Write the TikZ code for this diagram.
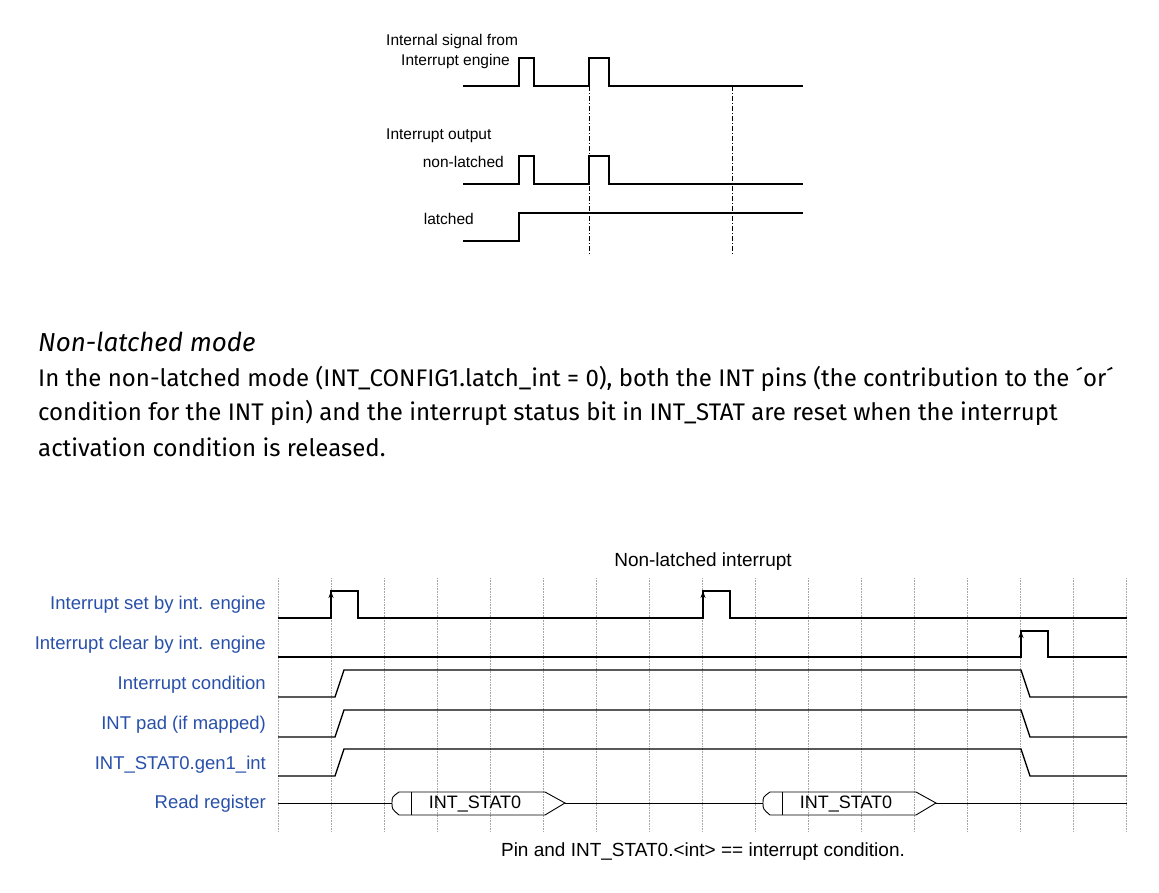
\documentclass[tikz,border=0pt]{standalone}
\usepackage{fontspec}
\setmainfont{Liberation Sans}
\newfontfamily\parafont{Fira Sans}
\usetikzlibrary{arrows.meta}
\definecolor{lblblue}{RGB}{40,80,170}

\begin{document}
\begin{tikzpicture}
	[x=1pt,y=-1pt,
	sig/.style={line width=1.3pt},
	gridline/.style={densely dotted, gray!70, line width=0.6pt},
	dashdot/.style={dash pattern=on 5pt off 2pt on 1pt off 2pt, line width=1pt},
	toplbl/.style={inner sep=0pt, font=\fontsize{15.5}{17}\selectfont},
	sidelbl/.style={anchor=east, inner sep=0pt, text=lblblue, font=\fontsize{18.5}{20}\selectfont},
	paratext/.style={anchor=west, inner sep=0pt, font=\parafont\fontsize{24}{28}\selectfont}]
	\useasboundingbox (0,0) rectangle (1159,893);
	
	% upper diagram
	\node[toplbl, anchor=west] (sigfrom) at (386,41) {Internal signal from};
	\node[toplbl, anchor=east] (sigeng) at (510,61) {Interrupt engine};
	\node[toplbl, anchor=west] (outlbl) at (386,136) {Interrupt output};
	\node[toplbl, anchor=east] (nonlat) at (504,162) {non-latched};
	\node[toplbl, anchor=east] (lat) at (474,219) {latched};
	
	\draw[sig] (463,86) -- (519,86) -- (519,58) -- (534,58) -- (534,86) -- (589,86) -- (589,58) -- (609,58) -- (609,86) -- (803,86);
	\draw[sig] (463,184) -- (519,184) -- (519,156) -- (534,156) -- (534,184) -- (589,184) -- (589,156) -- (609,156) -- (609,184) -- (803,184);
	\draw[sig] (463,241) -- (519,241) -- (519,213) -- (803,213);
	\draw[dashdot] (589,86) -- (589,255);
	\draw[dashdot] (732,86) -- (732,255);
	
	% text
	\node[paratext, font=\parafont\itshape\fontsize{26}{30}\selectfont] (mode) at (38,342) {Non-latched mode};
	\node[paratext] (line1) at (38,379) {In the non-latched mode (INT\_CONFIG1.latch\_int = 0), both the INT pins (the contribution to the ´or´};
	\node[paratext] (line2) at (38,413) {condition for the INT pin) and the interrupt status bit in INT\_STAT are reset when the interrupt};
	\node[paratext] (line3) at (38,447) {activation condition is released.};
	
	% lower diagram
	\foreach \gx in {0,...,16}
		\draw[gridline] (278+53*\gx,578) -- (278+53*\gx,832);
	
	\node[inner sep=0pt, font=\fontsize{19}{21}\selectfont] (title) at (703,562) {Non-latched interrupt};
	\node[inner sep=0pt, font=\fontsize{19}{21}\selectfont] (caption) at (703,852) {Pin and INT\_STAT0.<int> == interrupt condition.};
	
	\node[sidelbl] (setlbl) at (266,605) {Interrupt set by int. engine};
	\node[sidelbl] (clrlbl) at (266,645) {Interrupt clear by int. engine};
	\node[sidelbl] (condlbl) at (266,685) {Interrupt condition};
	\node[sidelbl] (padlbl) at (266,725) {INT pad (if mapped)};
	\node[sidelbl] (statlbl) at (266,765) {INT\_STAT0.gen1\_int};
	\node[sidelbl] (readlbl) at (266,804) {Read register};
	
	\draw[sig] (278,618) -- (331,618) -- (331,591) -- (358,591) -- (358,618) -- (703,618) -- (703,591) -- (730,591) -- (730,618) -- (1127,618);
	\draw[-{Stealth[length=7pt,width=5pt]}, sig] (331,612) -- (331,591);
	\draw[-{Stealth[length=7pt,width=5pt]}, sig] (703,612) -- (703,591);
	\draw[sig] (278,657) -- (1021,657) -- (1021,631) -- (1048,631) -- (1048,657) -- (1127,657);
	\draw[-{Stealth[length=7pt,width=5pt]}, sig] (1021,651) -- (1021,631);
	\foreach \ly in {697,737,776}
		\draw[sig] (278,\ly) -- (335,\ly) -- (344,\ly-27) -- (1021,\ly-27) -- (1030,\ly) -- (1127,\ly);
	
	% read register bus
	\draw[line width=0.9pt] (278,803) -- (392,803);
	\draw[line width=0.9pt] (565,803) -- (763,803);
	\draw[line width=0.9pt] (935,803) -- (1127,803);
	\foreach \bx/\bname in {392/busa,763/busb} {
		\draw[line width=0.9pt] (\bx+7,792) .. controls (\bx,797) .. (\bx,803) .. controls (\bx,809) .. (\bx+7,815)
			-- (\bx+153,815) -- (\bx+173,803) -- (\bx+153,792) -- cycle;
		\draw[line width=0.9pt] (\bx+19,792) -- (\bx+19,815);
		\node[inner sep=0pt, font=\fontsize{18}{20}\selectfont] (\bname) at (\bx+83,804) {INT\_STAT0};
	}
\end{tikzpicture}
\end{document}
